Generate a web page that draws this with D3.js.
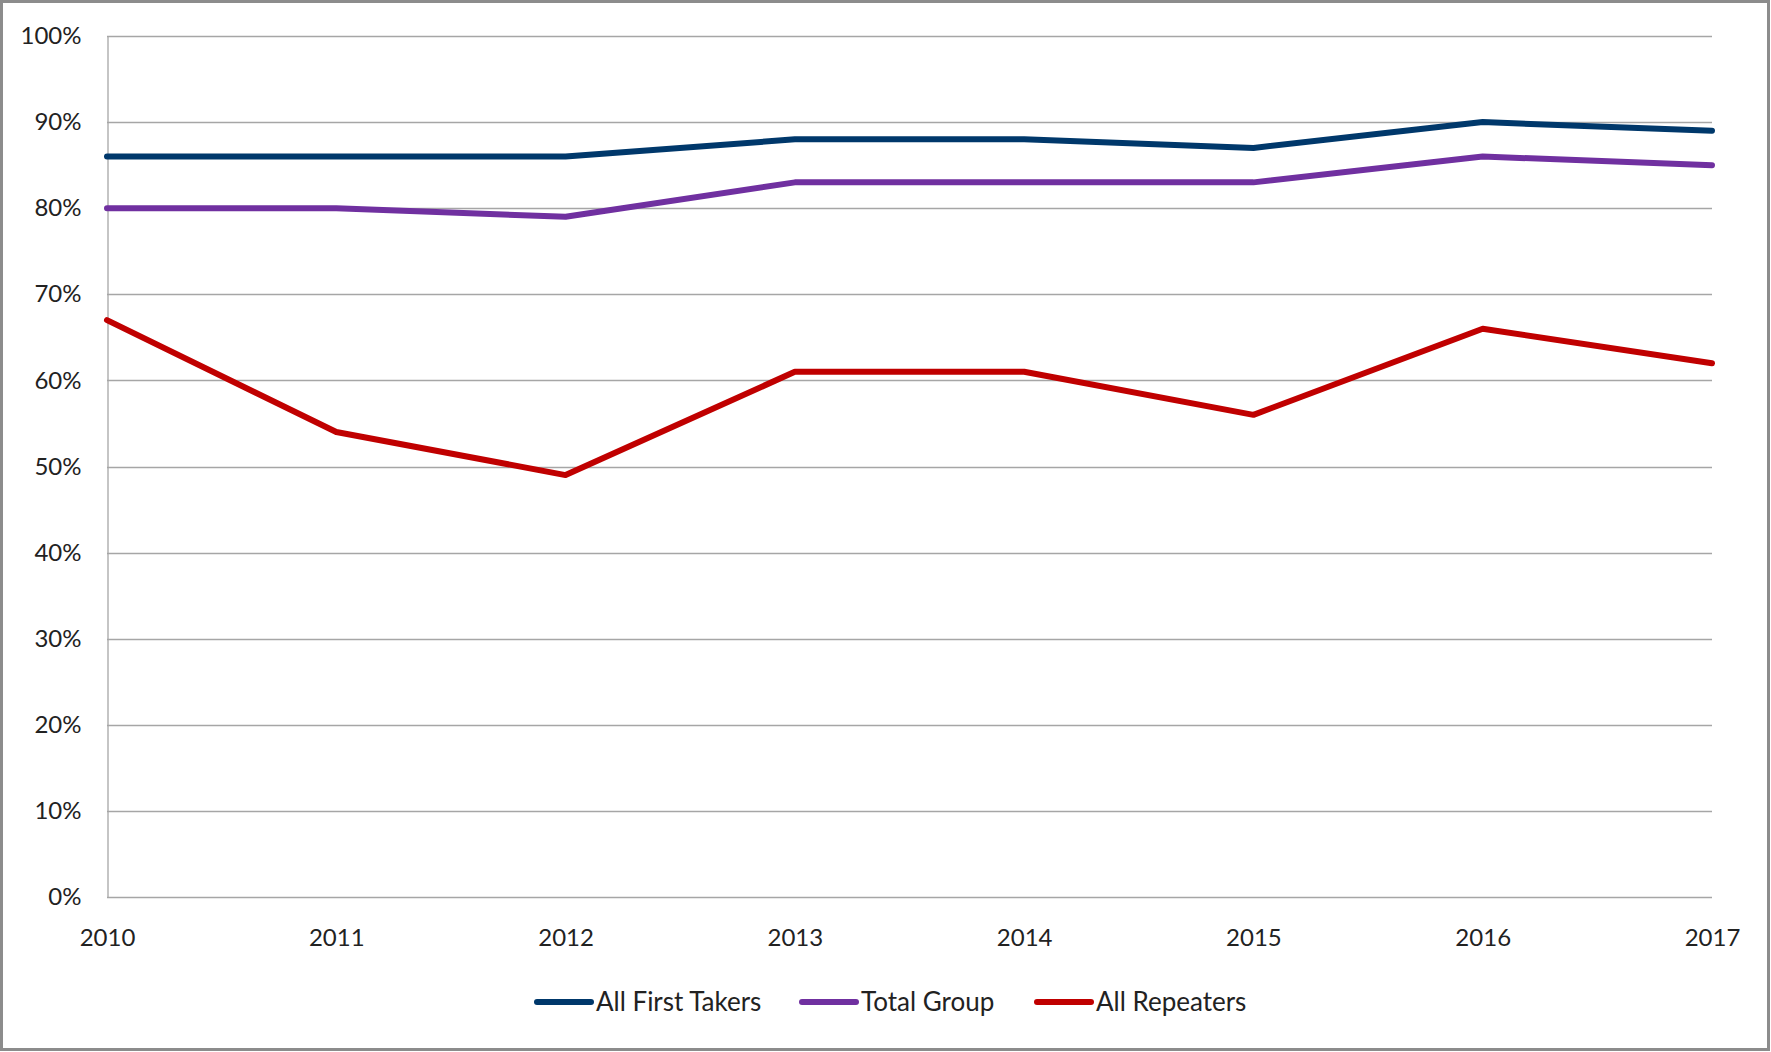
<!DOCTYPE html>
<html>
<head>
<meta charset="utf-8">
<script src="https://cdn.jsdelivr.net/npm/d3@7"></script>
<style>
  html, body { margin: 0; padding: 0; background: #fff; }
  svg { display: block; }
  text { font-family: Lato, "Open Sans", sans-serif; fill: #222; }
</style>
</head>
<body>
<svg id="chart" width="1771" height="1052"></svg>
<script>
// Pass rates by year
const years = ["2010", "2011", "2012", "2013", "2014", "2015", "2016", "2017"];
const firstTakers = [86, 86, 86, 88, 88, 87, 90, 89];
const totalGroup = [80, 80, 79, 83, 83, 83, 86, 85];
const repeaters = [67, 54, 49, 61, 61, 56, 66, 62];
const yTicks = [0, 10, 20, 30, 40, 50, 60, 70, 80, 90, 100];

const seriesNames = ["All First Takers", "Total Group", "All Repeaters"];
const seriesColors = ["#00386b", "#7030a0", "#c00000"];
const series = [firstTakers, totalGroup, repeaters].map((values, i) => ({
  name: seriesNames[i], color: seriesColors[i], values
}));

const W = 1771, H = 1052;
const plot = { left: 107, right: 1712, top: 36, bottom: 897 };

const svg = d3.select("#chart");

// outer frame
svg.append("rect")
  .attr("x", 1.5).attr("y", 1.5)
  .attr("width", W - 4).attr("height", H - 4)
  .attr("fill", "#fff").attr("stroke", "#8c8c8c").attr("stroke-width", 3);

const x = d3.scalePoint().domain(years).range([plot.left, plot.right]);
const y = d3.scaleLinear().domain([0, 100]).range([plot.bottom, plot.top]);

// horizontal gridlines
svg.append("g")
  .selectAll("line")
  .data(yTicks)
  .join("line")
  .attr("x1", plot.left).attr("x2", plot.right)
  .attr("y1", d => Math.round(y(d)) + 0.5).attr("y2", d => Math.round(y(d)) + 0.5)
  .attr("stroke", "#a6a6a6").attr("stroke-width", 1.3);

// y axis
const yAxis = svg.append("g")
  .attr("transform", `translate(${plot.left + 0.5},0)`)
  .call(d3.axisLeft(y).tickValues(yTicks).tickSize(0).tickPadding(26)
    .tickFormat(d => d + "%"));
yAxis.select(".domain").attr("stroke", "#a6a6a6").attr("stroke-width", 1.3);
yAxis.selectAll("text")
  .style("font-family", "Lato, 'Open Sans', sans-serif")
  .style("font-size", "24px").attr("fill", "#222");

// x axis labels
const xAxis = svg.append("g")
  .attr("transform", `translate(0,${plot.bottom})`)
  .call(d3.axisBottom(x).tickSize(0).tickPadding(32));
xAxis.select(".domain").remove();
xAxis.selectAll("text")
  .style("font-family", "Lato, 'Open Sans', sans-serif")
  .style("font-size", "24px").attr("fill", "#222");

// series lines
const line = d3.line()
  .x((d, i) => x(years[i]))
  .y(d => y(d));

svg.append("g")
  .selectAll("path")
  .data(series)
  .join("path")
  .attr("d", d => line(d.values))
  .attr("fill", "none")
  .attr("stroke", d => d.color)
  .attr("stroke-width", 6)
  .attr("stroke-linejoin", "round")
  .attr("stroke-linecap", "round");

// legend
const legendX = [535, 800, 1035];
const legend = svg.append("g").attr("transform", "translate(0,1002)");
const items = legend.selectAll("g")
  .data(series)
  .join("g")
  .attr("transform", (d, i) => `translate(${legendX[i]},0)`);
items.append("line")
  .attr("x1", 2).attr("x2", 56).attr("y1", 0).attr("y2", 0)
  .attr("stroke", d => d.color).attr("stroke-width", 6)
  .attr("stroke-linecap", "round");
items.append("text")
  .attr("x", 61).attr("y", 0).attr("dy", "0.36em")
  .style("font-size", "26px")
  .text(d => d.name);
</script>
</body>
</html>
